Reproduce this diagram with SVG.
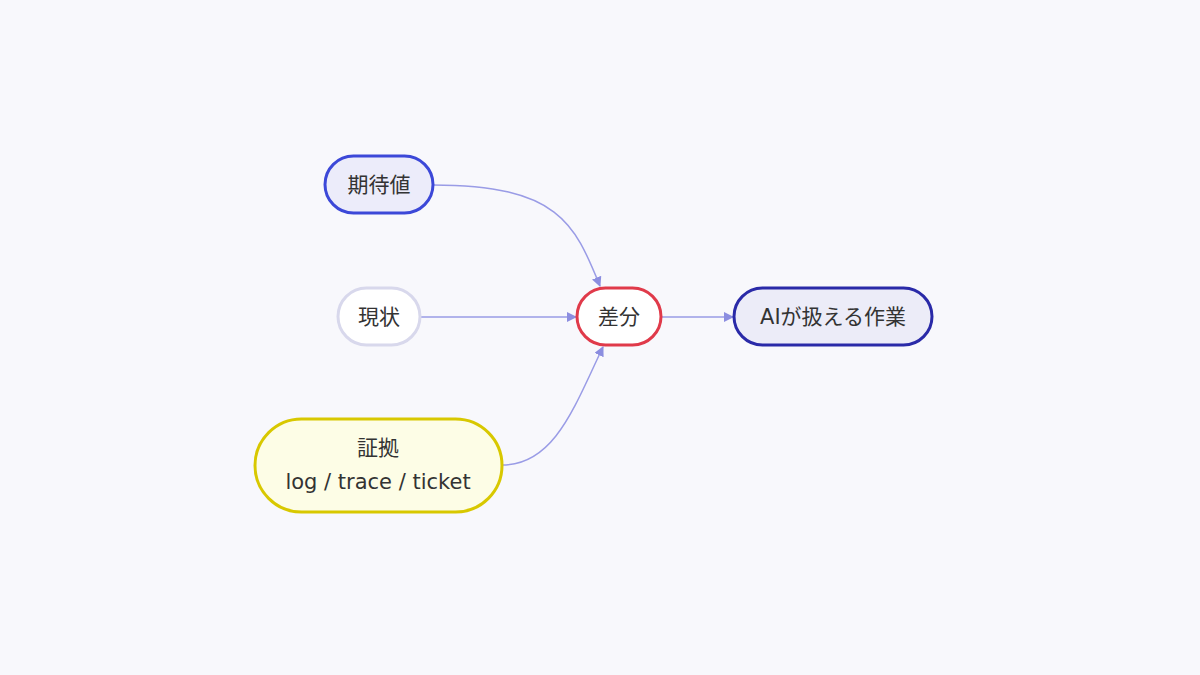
<svg xmlns="http://www.w3.org/2000/svg" width="1200" height="675" viewBox="0 0 1200 675">
<defs>
<marker id="ah" viewBox="0 0 10 10" refX="9" refY="5" markerWidth="10" markerHeight="10" markerUnits="userSpaceOnUse" orient="auto"><path d="M0,0 L10,5 L0,10 z" fill="#8c8ee0"/></marker>
<style>
text{font-family:"DejaVu Sans","Noto Sans CJK JP",sans-serif;font-size:21px;fill:#333;text-anchor:middle;dominant-baseline:central}
.e{fill:none;stroke:#9a9ce6;stroke-width:1.5;marker-end:url(#ah)}
rect{stroke-width:3}
</style>
</defs>
<rect width="1200" height="675" fill="#f8f8fc" style="stroke:none"/>
<g id="edges">
<path class="e" d="M433,185 C560,185 575,225 600,286"/>
<path class="e" d="M420,317 L576,317"/>
<path class="e" d="M502,465 C555,465 575,405 603,347"/>
<path class="e" d="M661,317 L733,317"/>
</g>
<g id="n1"><rect x="325" y="156" width="108" height="57" rx="28.5" fill="#ececfa" stroke="#3c48d8"/><text x="379" y="185">期待値</text></g>
<g id="n2"><rect x="338" y="288" width="82" height="57" rx="28.5" fill="#ffffff" stroke="#d8d8ec"/><text x="379" y="317">現状</text></g>
<g id="n3"><rect x="255" y="419" width="247" height="93" rx="46.5" fill="#fdfde6" stroke="#d8c800"/><text x="378" y="448">証拠</text><text x="378" y="482">log / trace / ticket</text></g>
<g id="n4"><rect x="577" y="288" width="84" height="57" rx="28.5" fill="#ffffff" stroke="#e03a4a"/><text x="619" y="317">差分</text></g>
<g id="n5"><rect x="734" y="288" width="198" height="57" rx="28.5" fill="#ececf8" stroke="#2a2aa8"/><text x="833" y="317">AIが扱える作業</text></g>
</svg>
